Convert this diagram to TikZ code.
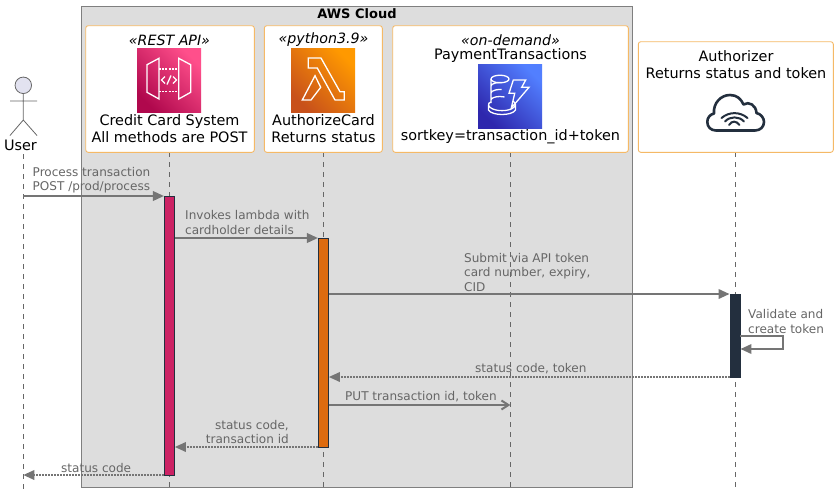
\documentclass[tikz,border=0pt]{standalone}
\usepackage{fontspec}
\setmainfont{DejaVu Sans}
\usetikzlibrary{arrows.meta}
\definecolor{regionfill}{HTML}{DDDDDD}
\definecolor{regionline}{HTML}{7F7F7F}
\definecolor{boxline}{HTML}{F5B966}
\definecolor{msgline}{HTML}{757575}
\definecolor{msgtext}{HTML}{666666}
\definecolor{awsdark}{HTML}{232F3E}
\definecolor{apibar}{HTML}{CC2264}
\definecolor{authbar}{HTML}{DD6B10}
\definecolor{userfill}{HTML}{E2E2F0}
\definecolor{apilow}{HTML}{B0084D}
\definecolor{apihigh}{HTML}{FF4F8B}
\definecolor{authlow}{HTML}{C8511B}
\definecolor{authhigh}{HTML}{FF9900}
\definecolor{tablelow}{HTML}{2E27AD}
\definecolor{tablehigh}{HTML}{527FFF}
\tikzset{
  partbox/.style={draw=boxline,fill=white,line width=0.9pt,rounded corners=2.5pt,inner sep=0pt},
  partname/.style={font=\fontsize{14.4}{16.7}\selectfont,align=center,inner sep=0pt,text=black},
  stereo/.style={font=\fontsize{14.2}{16.7}\itshape,inner sep=0pt,text=black},
  icon/.style={minimum size=64pt,inner sep=0pt},
  glyph/.style={draw=white,line width=1.3pt,line join=miter},
  lifeline/.style={draw=black!60,line width=0.7pt,dash pattern=on 5pt off 5pt},
  actbar/.style={draw=awsdark,line width=0.9pt,minimum width=10pt,inner sep=0pt},
  msg/.style={draw=msgline,line width=2pt,-{Triangle[length=11pt,width=9.5pt]}},
  msgback/.style={draw=msgline,line width=1.8pt,dash pattern=on 1.5pt off 1.5pt,-{Triangle[length=11pt,width=9.5pt,sep=0pt]}},
  msgopen/.style={draw=msgline,line width=2pt,-{Straight Barb[length=7pt,width=9pt]}},
  msgname/.style={font=\fontsize{12.05}{14.3}\selectfont,text=msgtext,inner sep=0pt,align=left},
}
\begin{document}
\begin{tikzpicture}[x=1pt,y=-1pt]
  \useasboundingbox (0,0) rectangle (838,499);
  % region
  \node[draw=regionline,fill=regionfill,line width=1pt,minimum width=551pt,minimum height=481pt,inner sep=0pt] (cloud) at (357,247) {};
  \node[font=\fontsize{13}{15}\bfseries,inner sep=0pt] (cloudTitle) at (357,13.5) {AWS Cloud};
  % lifelines
  \coordinate (userBot) at (23.3,490);
  \coordinate (apiBot) at (169.3,490);
  \coordinate (authBot) at (323.3,490);
  \coordinate (tableBot) at (510.3,490);
  \coordinate (extBot) at (735.3,490);
  \coordinate (userTop) at (23.3,154);
  \draw[lifeline] (userTop) -- (userBot);
  \draw[lifeline] (apiBot |- 0,152) -- (apiBot);
  \draw[lifeline] (authBot |- 0,152) -- (authBot);
  \draw[lifeline] (tableBot |- 0,152) -- (tableBot);
  \draw[lifeline] (extBot |- 0,152) -- (extBot);
  % user
  \node[circle,draw=black!60,fill=userfill,line width=0.8pt,minimum size=16.5pt,inner sep=0pt] (userHead) at (23.3,85.3) {};
  \coordinate (userHip) at (23.3,120);
  \coordinate (userArmL) at (10,101);
  \coordinate (userArmR) at (37,101);
  \coordinate (userFootL) at (10,135.5);
  \coordinate (userFootR) at (37,135.5);
  \draw[draw=black!60,line width=0.8pt] (userHead) -- (userHip) (userArmL) -- (userArmR) (userFootL) -- (userHip) -- (userFootR);
  \node[partname] (userName) at (20.5,145) {User};
  % boxes
  \node[partbox,minimum width=168.6pt,minimum height=126.6pt] (apiBox) at (170,89) {};
  \node[partbox,minimum width=118pt,minimum height=126.6pt] (authBox) at (323.3,89) {};
  \node[partbox,minimum width=235.6pt,minimum height=126.6pt] (tableBox) at (510.5,89) {};
  \node[partbox,minimum width=195pt,minimum height=110.6pt] (extBox) at (735.8,97) {};
  \node[stereo] (apiKind) at (169.5,40) {«REST API»};
  \node[stereo] (authKind) at (323.5,40) {«python3.9»};
  \node[stereo] (tableKind) at (510.5,40) {«on-demand»};
  \node[partname] (apiName) at (169.5,128.5) {Credit Card System\\All methods are POST};
  \node[partname] (authName) at (323.5,128.5) {AuthorizeCard\\Returns status};
  \node[partname] (tableName) at (510.5,56) {PaymentTransactions};
  \node[partname] (tableKey) at (510.5,137) {sortkey=transaction\_id+token};
  \node[partname] (extName) at (736,64.5) {Authorizer\\Returns status and token};
  % icons
  \node[icon,bottom color=apilow,top color=apihigh,shading angle=-45] (apiIcon) at (169,80) {};
  \node[icon,bottom color=authlow,top color=authhigh,shading angle=-45] (authIcon) at (323,80) {};
  \node[icon,bottom color=tablelow,top color=tablehigh,shading angle=-45] (tableIcon) at (510,96) {};
  \draw[glyph] (147,64.7) -- (159,58.3) -- (159,99) -- (147,92.3) -- cycle;
  \draw[glyph] (178.7,58.3) -- (190.7,64.7) -- (190.7,92.3) -- (178.7,99) -- cycle;
  \draw[glyph,dash pattern=on 2pt off 1.2pt] (159,69) -- (178.7,69) (159,91.7) -- (178.7,91.7);
  \draw[glyph] (165,76.5) -- (161.5,80) -- (165,83.5) (173,76.5) -- (176.5,80) -- (173,83.5) (171,75.5) -- (167,84.5);
  \draw[glyph] (308.3,58) -- (321,58) -- (340,91.7) -- (344.3,91.7) -- (344.3,100) -- (335,100) -- (317.3,68) -- (308.3,68) -- cycle;
  \draw[glyph] (315,75.7) -- (320.7,87.3) -- (311,100) -- (302.3,100) -- cycle;
  \draw[glyph] (491,79) arc[start angle=180,end angle=0,x radius=9,y radius=3.8] (491,79) arc[start angle=180,end angle=360,x radius=9,y radius=3.8];
  \draw[glyph] (491,79) -- (491,103) (491,86) arc[start angle=180,end angle=280,x radius=9,y radius=3.5] (491,93) arc[start angle=180,end angle=280,x radius=9,y radius=3.5] (491,100) arc[start angle=180,end angle=300,x radius=9,y radius=3.5];
  \draw[glyph] (491,102) .. controls (487,103) and (488.5,107) .. (491,108) .. controls (496,111.5) and (508,111.5) .. (513,108) .. controls (516,106) and (516,103) .. (513,101) (488.5,105) -- (488.5,110) .. controls (492,116) and (512,116) .. (515.5,110) -- (515.5,104);
  \draw[glyph] (513.3,80) -- (525.7,80) -- (521.7,87.3) -- (529,87.3) -- (511.3,108) -- (514.7,93.3) -- (509,93.3) -- cycle;
  \draw[draw=awsdark,line width=2.6pt,line join=round] (716,130.5) .. controls (711,130.5) and (707.3,127) .. (707.3,122) .. controls (707.3,117.5) and (710,114.5) .. (714,113.5) .. controls (713,103) and (721,95) .. (730,95) .. controls (737,95) and (741,99) .. (743.5,104.5) .. controls (749,101) and (756,105) .. (756.5,113) .. controls (761,114) and (764,118) .. (764,122) .. controls (764,127) and (760,130.5) .. (755,130.5) -- cycle;
  \draw[draw=awsdark,line width=2pt,line cap=round] (721.5,118) .. controls (729,111.5) and (740,111.5) .. (747.5,118) (725,121.5) .. controls (730,116) and (739,116) .. (744,121.5) (729,125) .. controls (732,120.5) and (736,120.5) .. (739.5,125);
  % bars
  \node[actbar,fill=apibar,minimum height=279.5pt] (apiBar) at (169.4,335.8) {};
  \node[actbar,fill=authbar,minimum height=209.5pt] (authBar) at (323.4,342.8) {};
  \node[actbar,fill=awsdark,minimum height=83pt] (extBar) at (735,335.8) {};
  % messages
  \coordinate (m1) at (0,196);
  \coordinate (m2) at (0,238);
  \coordinate (m3) at (0,294);
  \coordinate (m4) at (0,336);
  \coordinate (m5) at (0,349);
  \coordinate (m6) at (0,377);
  \coordinate (m7) at (0,405);
  \coordinate (m8) at (0,447);
  \coordinate (m9) at (0,475);
  \draw[msg] (userBot |- m1) -- (apiBar.west |- m1);
  \draw[msg] (apiBar.east |- m2) -- (authBar.west |- m2);
  \draw[msg] (authBar.east |- m3) -- (extBar.west |- m3);
  \coordinate (loopA) at (783,336);
  \coordinate (loopB) at (783,349);
  \draw[msg] (extBar.east |- m4) -- (loopA) -- (loopB) -- (extBar.east |- m5);
  \draw[msgback] (extBar.west |- m6) -- (authBar.east |- m6);
  \draw[msgopen] (authBar.east |- m7) -- (tableBot |- m7);
  \draw[msgback] (authBar.west |- m8) -- (apiBar.east |- m8);
  \draw[msgback] (apiBar.west |- m9) -- (userBot |- m9);
  \node[msgname,anchor=west] (t1) at (32.5,180.5) {Process transaction\\POST /prod/process};
  \node[msgname,anchor=west] (t2) at (185,222.5) {Invokes lambda with\\cardholder details};
  \node[msgname,anchor=west] (t3) at (464,272.5) {Submit via API token\\card number, expiry,\\CID};
  \node[msgname,anchor=west] (t4) at (748,321.5) {Validate and\\create token};
  \node[msgname,anchor=west] (t5) at (475,368.5) {status code, token};
  \node[msgname,anchor=west] (t6) at (345,396.5) {PUT transaction id, token};
  \node[msgname,anchor=east,align=right] (t7) at (289,432) {status code,\\transaction id};
  \node[msgname,anchor=west] (t8) at (61,467.5) {status code};
\end{tikzpicture}
\end{document}
